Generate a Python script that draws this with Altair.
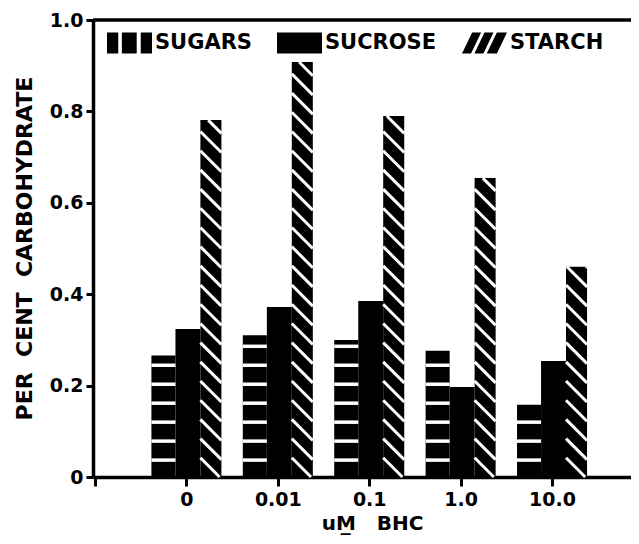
import altair as alt
import pandas as pd

# ---- data ----
concentrations = ["0", "0.01", "0.1", "1.0", "10.0"]
series_names = ["SUGARS", "SUCROSE", "STARCH"]
sugars = [0.266, 0.310, 0.300, 0.276, 0.158]
sucrose = [0.324, 0.372, 0.385, 0.197, 0.254]
starch = [0.781, 0.908, 0.790, 0.654, 0.460]
y_ticks = [0, 0.2, 0.4, 0.6, 0.8, 1.0]

rows = []
for i, c in enumerate(concentrations):
    for s, vals in zip(series_names, [sugars, sucrose, starch]):
        rows.append({"conc": c, "pos": i + 1, "series": s, "value": vals[i]})
df = pd.DataFrame(rows)

# ---- layout constants ----
W, H = 538, 457
XMIN, XMAX = -0.022, 5.864
PX_PER_X = W / (XMAX - XMIN)
PX_PER_Y = H / 1.0
RATIO = PX_PER_X / PX_PER_Y
FONT = "DejaVu Sans"
NB = "\u00a0"

xscale = alt.Scale(domain=[XMIN, XMAX], nice=False, zero=False)
yscale = alt.Scale(domain=[0, 1], nice=False, zero=True)

label_array = "[''," + ",".join("'%s'" % c for c in concentrations) + "]"

x_axis = alt.Axis(
    values=[0, 1, 2, 3, 4, 5],
    labelExpr=label_array + "[datum.value]",
    grid=False,
    domainColor="black",
    domainWidth=3.5,
    tickColor="black",
    tickWidth=3,
    tickSize=9,
    labelFont=FONT,
    labelFontSize=19,
    labelFontWeight="bold",
    labelColor="black",
    labelPadding=4,
    labelFlush=False,
    title="uM\u0332" + NB * 3 + "BHC",
    titleFont=FONT,
    titleFontSize=20,
    titleFontWeight="bold",
    titleColor="black",
    titleX=279,
    titleY=46,
    titleBaseline="middle",
)
y_axis = alt.Axis(
    values=y_ticks,
    labelExpr="datum.value == 0 ? '0' : format(datum.value, '.1f')",
    grid=False,
    domainColor="black",
    domainWidth=3.5,
    tickColor="black",
    tickWidth=3,
    tickSize=7,
    labelFont=FONT,
    labelFontSize=19,
    labelFontWeight="bold",
    labelColor="black",
    labelPadding=3,
    labelFlush=False,
    title="PER" + NB * 2 + "CENT" + NB * 2 + "CARBOHYDRATE",
    titleFont=FONT,
    titleFontSize=22,
    titleFontWeight="bold",
    titleColor="black",
    titleAngle=270,
    titleX=-69,
    titleY=228,
    titleBaseline="middle",
    titleAlign="center",
)

base = alt.Chart(df).transform_calculate(
    xl="datum.pos + (datum.series == 'SUGARS' ? -0.383 : datum.series == 'SUCROSE' ? -0.12 : 0.153)",
    xr="datum.pos + (datum.series == 'SUGARS' ? -0.12 : datum.series == 'SUCROSE' ? 0.153 : 0.383)",
    y0base="0",
)

bars = base.mark_bar(color="black", stroke=None).encode(
    x=alt.X("xl:Q", scale=xscale, axis=x_axis),
    x2="xr:Q",
    y=alt.Y("value:Q", scale=yscale, axis=y_axis),
    y2="y0base:Q",
)

# horizontal white stripes of the SUGARS bars
sugar_stripes = (
    base.transform_filter("datum.series == 'SUGARS'")
    .transform_calculate(k="sequence(0, 30)")
    .transform_flatten(["k"])
    .transform_calculate(ys="0.037 + datum.k * 0.0415")
    .transform_filter("datum.ys < datum.value - 0.012")
    .mark_rule(color="white", strokeWidth=3.5)
    .encode(
        x=alt.X("xl:Q", scale=xscale, axis=x_axis),
        x2="xr:Q",
        y=alt.Y("ys:Q", scale=yscale, axis=y_axis),
    )
)

# diagonal white hatching of the STARCH bars
starch_stripes = (
    base.transform_filter("datum.series == 'STARCH'")
    .transform_calculate(k="sequence(0, 30)")
    .transform_flatten(["k"])
    .transform_calculate(
        w="datum.xr - datum.xl",
        y0="datum.k * 0.042",
    )
    .transform_calculate(d="datum.w * %f" % RATIO)
    .transform_calculate(
        tlo="max(0, (datum.y0 - datum.value) / datum.d)",
        thi="min(1, datum.y0 / datum.d)",
    )
    .transform_filter("datum.tlo < datum.thi")
    .transform_calculate(
        xa="datum.xl + datum.tlo * datum.w",
        ya="datum.y0 - datum.tlo * datum.d",
        xb="datum.xl + datum.thi * datum.w",
        yb="datum.y0 - datum.thi * datum.d",
    )
    .mark_rule(color="white", strokeWidth=3)
    .encode(
        x=alt.X("xa:Q", scale=xscale, axis=x_axis),
        x2="xb:Q",
        y=alt.Y("ya:Q", scale=yscale, axis=y_axis),
        y2="yb:Q",
    )
)

# top frame line
top_line = (
    alt.Chart(pd.DataFrame({"top": [max(y_ticks)]}))
    .mark_rule(color="black", strokeWidth=3.5)
    .encode(y=alt.Y("top:Q", scale=yscale, axis=y_axis))
)

# legend via invisible points with custom pattern-like symbols
sym_sugars = "M-1,-0.47H-0.5V0.47H-1Z M-0.34,-0.47H0.32V0.47H-0.34Z M0.5,-0.47H1V0.47H0.5Z"
sym_sucrose = "M-1,-0.47H1V0.47H-1Z"
sym_starch = ("M-1,0.47L-0.55,-0.47H-0.15L-0.6,0.47Z "
              "M-0.45,0.47L0,-0.47H0.4L-0.05,0.47Z "
              "M0.1,0.47L0.55,-0.47H1L0.55,0.47Z")

legend_pts = base.mark_point(filled=True, opacity=0, color="black").encode(
    x=alt.X("xl:Q", scale=xscale, axis=x_axis),
    y=alt.Y("value:Q", scale=yscale, axis=y_axis),
    shape=alt.Shape(
        "series:N",
        scale=alt.Scale(domain=series_names, range=[sym_sugars, sym_sucrose, sym_starch]),
        legend=alt.Legend(
            title=None,
            orient="none",
            legendX=14,
            legendY=0,
            direction="horizontal",
            padding=0,
            symbolSize=2025,
            symbolFillColor="black",
            symbolStrokeColor="black",
            symbolStrokeWidth=0,
            symbolOpacity=1,
            labelFont=FONT,
            labelFontSize=21,
            labelFontWeight="bold",
            labelColor="black",
            labelOffset=3,
            columnPadding=25,
            labelLimit=300,
        ),
    ),
)

chart = (
    alt.layer(bars, sugar_stripes, starch_stripes, top_line, legend_pts)
    .properties(
        width=W,
        height=H,
        autosize=alt.AutoSizeParams(type="none"),
        padding={"left": 85, "top": 12, "right": 0, "bottom": 59},
        background="white",
    )
    .configure_view(stroke=None)
)

chart.save("out.html", embed_options={"renderer": "svg", "actions": False})
